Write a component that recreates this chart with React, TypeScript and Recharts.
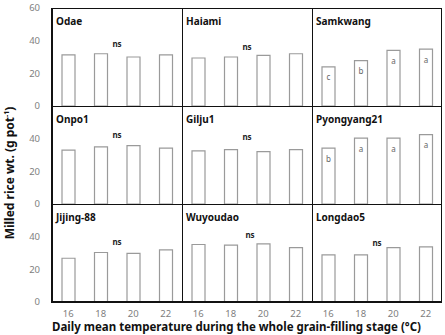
import React from "react";
import { BarChart, Bar, XAxis, YAxis, LabelList } from "recharts";

// temperature treatments (°C)
const temps = ["16", "18", "20", "22"];

const cultivars = [
  "Odae",
  "Haiami",
  "Samkwang",
  "Onpo1",
  "Gilju1",
  "Pyongyang21",
  "Jijing-88",
  "Wuyoudao",
  "Longdao5",
];

// milled rice weight, g per pot
const odae = [31.3, 32, 30, 31.3];
const haiami = [29.4, 30, 31, 32];
const samkwang = [24, 27.8, 34, 34.8];
const onpo1 = [33, 35, 35.8, 34.2];
const gilju1 = [32.5, 33.3, 32.1, 33.3];
const pyongyang21 = [34.2, 40.3, 40.3, 42.5];
const jijing88 = [26.8, 30.3, 29.8, 31.9];
const wuyoudao = [35.2, 34.8, 35.6, 33.3];
const longdao5 = [28.8, 28.8, 33.3, 33.7];

const series = [odae, haiami, samkwang, onpo1, gilju1, pyongyang21, jijing88, wuyoudao, longdao5];

// Duncan letters; panels without them are marked "ns"
const samkwangLetters = ["c", "b", "a", "a"];
const pyongyangLetters = ["b", "a", "a", "a"];
const letters: (string[] | null)[] = [null, null, samkwangLetters, null, null, pyongyangLetters, null, null, null];

const topTicks = [0, 20, 40, 60];
const lowerTicks = [0, 20, 40];

const FONT = "'Noto Sans', 'Open Sans', sans-serif";
const PLOT_LEFT = 52;
const PLOT_TOP = 8;
const PAD = 8;
const COL_W = 130;
const ROW_H = 98;
const X_AXIS_H = 24;

// "ns" placement inside each panel (px from panel top-left)
const nsPos: Record<number, [number, number]> = {
  0: [65, 36],
  1: [65, 38.5],
  3: [65, 29],
  4: [65, 30.5],
  6: [65, 37.5],
  7: [68, 31],
  8: [65, 39],
};

function Panel({ index }: { index: number }) {
  const row = Math.floor(index / 3);
  const col = index % 3;
  const showY = col === 0;
  const showX = row === 2;
  const data = temps.map((t, i) => ({
    temp: t,
    value: series[index][i],
    letter: letters[index] ? letters[index]![i] : "",
  }));
  const width = showY ? PLOT_LEFT + COL_W : COL_W;
  const height = PAD + ROW_H + (showX ? X_AXIS_H : PAD);
  const left = showY ? 0 : PLOT_LEFT + col * COL_W;
  const top = PLOT_TOP - PAD + row * ROW_H;

  return (
    <div style={{ position: "absolute", left, top, width, height }}>
      <BarChart
        width={width}
        height={height}
        data={data}
        margin={{ top: PAD, right: 0, bottom: showX ? 0 : PAD, left: 0 }}
        barCategoryGap={0}
      >
        <XAxis
          dataKey="temp"
          hide={!showX}
          height={X_AXIS_H}
          axisLine={false}
          tickLine={false}
          tickMargin={2}
          tick={{ fill: "#808080", fontSize: 9.5, fontFamily: FONT }}
        />
        <YAxis
          hide={!showY}
          width={PLOT_LEFT}
          domain={[0, 60]}
          ticks={row === 0 ? topTicks : lowerTicks}
          axisLine={false}
          tickLine={false}
          tickMargin={6}
          tick={{ fill: "#808080", fontSize: 9.5, fontFamily: FONT }}
        />
        <Bar
          dataKey="value"
          barSize={13}
          fill="#ffffff"
          stroke="#9a9a9a"
          strokeWidth={1.2}
          isAnimationActive={false}
        >
          {letters[index] && (
            <LabelList
              dataKey="letter"
              position="insideTop"
              offset={8}
              fill="#666"
              fontSize={8}
              fontFamily={FONT}
            />
          )}
        </Bar>
      </BarChart>
    </div>
  );
}

const line = (left: number, top: number, width: number, height: number) => (
  <div
    key={`${left}-${top}-${width}-${height}`}
    style={{ position: "absolute", left, top, width, height, background: "#111" }}
  />
);

export default function App() {
  const frameBottom = PLOT_TOP + 3 * ROW_H;
  const frameRight = PLOT_LEFT + 3 * COL_W;
  return (
    <div
      style={{
        position: "absolute",
        left: 0,
        top: 0,
        width: 445,
        height: 335,
        overflow: "hidden",
        background: "#fff",
        fontFamily: FONT,
      }}
    >
      {cultivars.map((_, i) => (
        <Panel key={i} index={i} />
      ))}

      {/* panel frame */}
      {line(PLOT_LEFT, PLOT_TOP, frameRight - PLOT_LEFT, 1)}
      {line(PLOT_LEFT, PLOT_TOP + ROW_H, frameRight - PLOT_LEFT, 1)}
      {line(PLOT_LEFT, PLOT_TOP + 2 * ROW_H, frameRight - PLOT_LEFT, 1)}
      {line(PLOT_LEFT, frameBottom - 1, frameRight - PLOT_LEFT, 2)}
      {line(PLOT_LEFT - 1, PLOT_TOP, 2, frameBottom - PLOT_TOP + 1)}
      {line(PLOT_LEFT + COL_W, PLOT_TOP, 1, frameBottom - PLOT_TOP)}
      {line(PLOT_LEFT + 2 * COL_W, PLOT_TOP, 1, frameBottom - PLOT_TOP)}
      {line(frameRight - 1, PLOT_TOP, 1, frameBottom - PLOT_TOP)}

      {/* cultivar names and "ns" marks */}
      {cultivars.map((name, i) => {
        const row = Math.floor(i / 3);
        const col = i % 3;
        const x0 = PLOT_LEFT + col * COL_W;
        const y0 = PLOT_TOP + row * ROW_H;
        const ns = nsPos[i];
        return (
          <React.Fragment key={name}>
            <div
              style={{
                position: "absolute",
                left: x0 + 4,
                top: y0 + 6,
                fontSize: 10,
                fontWeight: 700,
                color: "#111",
                lineHeight: "14px",
                whiteSpace: "nowrap",
              }}
            >
              {name}
            </div>
            {ns && (
              <div
                style={{
                  position: "absolute",
                  left: x0 + ns[0],
                  top: y0 + ns[1],
                  transform: "translate(-50%, -50%)",
                  fontSize: 8,
                  fontWeight: 700,
                  color: "#222",
                  lineHeight: "10px",
                }}
              >
                ns
              </div>
            )}
          </React.Fragment>
        );
      })}

      {/* axis titles */}
      <div
        style={{
          position: "absolute",
          left: 10 - 100,
          top: 173 - 8,
          width: 200,
          height: 16,
          textAlign: "center",
          transform: "rotate(-90deg)",
          fontSize: 12,
          fontWeight: 700,
          color: "#111",
          whiteSpace: "nowrap",
          lineHeight: "16px",
        }}
      >
        Milled rice wt. (g pot<sup style={{ fontSize: 7, verticalAlign: "5px", lineHeight: 0 }}>-1</sup>)
      </div>
      <div
        style={{
          position: "absolute",
          left: 52,
          top: 321,
          fontSize: 11.5,
          fontWeight: 700,
          color: "#111",
          whiteSpace: "nowrap",
          lineHeight: "12px",
        }}
      >
        Daily mean temperature during the whole grain-filling stage (°C)
      </div>
    </div>
  );
}
